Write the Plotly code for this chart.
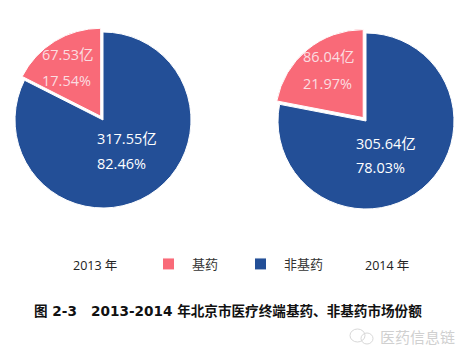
import plotly.graph_objects as go

categories = ["非基药", "基药"]
values_2013 = [317.55, 67.53]
values_2014 = [305.64, 86.04]
share_2013 = ["82.46%", "17.54%"]
share_2014 = ["78.03%", "21.97%"]
years = ["2013 年", "2014 年"]
colors = ["#234f97", "#f96a78"]
title = "图 2-3   2013-2014 年北京市医疗终端基药、非基药市场份额"
mark = "医药信息链"

W, H = 467, 358
CJK = "Noto Sans CJK SC"
UI = "Open Sans, Noto Sans CJK SC"
pull = 0.05
R = 88 * (1 + pull)


def domain(cx, cy):
    return dict(x=[(cx - R) / W, (cx + R) / W], y=[1 - (cy + R) / H, 1 - (cy - R) / H])


fig = go.Figure()
for i, (vals, cx, cy) in enumerate([(values_2013, 103, 120), (values_2014, 366, 121)]):
    fig.add_trace(go.Pie(
        labels=categories, values=vals, sort=False, direction="clockwise", rotation=0,
        pull=[0, pull], textinfo="none", hoverinfo="label+value+percent",
        marker=dict(colors=colors, line=dict(color="white", width=1)),
        domain=domain(cx, cy), showlegend=i == 0,
    ))


def txt(x, y, s, size=14.5, color="#ffffff", family=UI, anchor="left"):
    fig.add_annotation(x=x / W, y=1 - y / H, xref="paper", yref="paper", text=s, showarrow=False,
                       xanchor=anchor, yanchor="middle", align="left",
                       font=dict(size=size, color=color, family=family))


for vals, shares, pos in [(values_2013, share_2013, [(95, 138, 163), (40, 54, 80)]),
                          (values_2014, share_2014, [(354, 143, 168), (301, 57, 84)])]:
    for j in range(2):
        x, y1, y2 = pos[j]
        c = "#ffffff" if j == 0 else "#fbdde0"
        txt(x, y1, f"{vals[j]:.2f}亿", color=c)
        txt(x, y2, shares[j], color=c)

txt(71, 265, years[0], size=12.5, color="#222222")
txt(363, 265, years[1], size=12.5, color="#222222")
txt(32, 311, "<b>" + title + "</b>", size=13.6, color="#111111", family="DejaVu Sans, Noto Sans CJK SC")
txt(378, 336, mark, size=15, color="#d0d0d0", family=CJK)

for (x0, y0, x1, y1) in [(350, 329, 365, 342), (361, 333, 373, 344)]:
    fig.add_shape(type="circle", xref="paper", yref="paper", x0=x0 / W, x1=x1 / W,
                  y0=1 - y1 / H, y1=1 - y0 / H, line=dict(color="#d8d8d8", width=1))

fig.update_layout(
    width=W, height=H, margin=dict(l=0, r=0, t=0, b=0), paper_bgcolor="white",
    legend=dict(orientation="h", x=145 / W, y=1 - 264 / H, xanchor="left", yanchor="middle",
                traceorder="reversed", itemwidth=37, entrywidth=40, entrywidthmode="pixels",
                font=dict(size=13, color="#333333", family=CJK), bgcolor="rgba(0,0,0,0)"),
)
fig.write_html("out.html", config={"displayModeBar": False},
               post_script="document.body.style.margin='0';document.documentElement.style.overflow='hidden';")
